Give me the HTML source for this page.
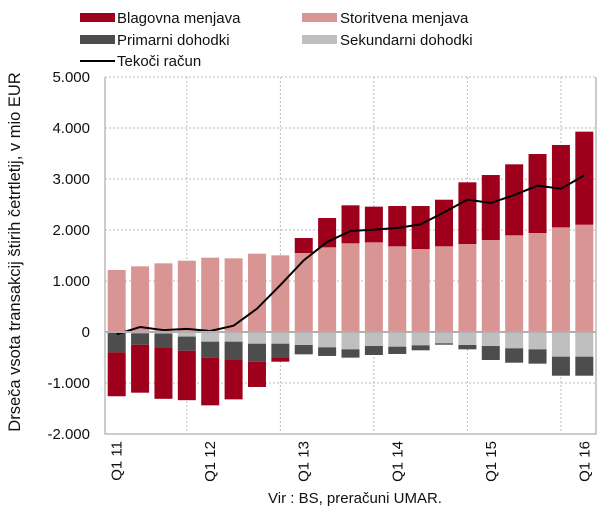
<!DOCTYPE html>
<html><head><meta charset="utf-8"><style>
body{margin:0;background:#fff;}
svg text{font-family:"Liberation Sans",sans-serif;fill:#111;}
</style></head><body>
<svg id="chart" width="614" height="516">
<g id="legend">
 <g><rect x="80" y="13" width="35" height="9" fill="#9e001b"/><text x="117" y="23" font-size="15">Blagovna menjava</text></g>
 <g><rect x="302" y="13" width="35" height="9" fill="#d99594"/><text x="340" y="23" font-size="15">Storitvena menjava</text></g>
 <g><rect x="80" y="35" width="35" height="9" fill="#4d4d4d"/><text x="117" y="45" font-size="15">Primarni dohodki</text></g>
 <g><rect x="302" y="35" width="35" height="9" fill="#bfbfbf"/><text x="340" y="45" font-size="15">Sekundarni dohodki</text></g>
 <g><line x1="80" y1="61" x2="115" y2="61" stroke="#000" stroke-width="2"/><text x="117" y="66" font-size="15">Tekoči račun</text></g>
</g>
<text transform="translate(20,252) rotate(-90)" text-anchor="middle" font-size="16.5">Drseča vsota transakcij štirih četrtletij, v mio EUR</text>
<text x="355" y="503" text-anchor="middle" font-size="15">Vir : BS, preračuni  UMAR.</text>
<g id="grid"></g><g id="bars"></g><g id="axes"></g>
</svg>
<script>
const categories=["Q1 11","Q2 11","Q3 11","Q4 11","Q1 12","Q2 12","Q3 12","Q4 12","Q1 13","Q2 13","Q3 13","Q4 13","Q1 14","Q2 14","Q3 14","Q4 14","Q1 15","Q2 15","Q3 15","Q4 15","Q1 16"];
const goods=[-860,-940,-1010,-970,-935,-785,-496,-85,294,575,745,700,790,843,914,1210,1274,1392,1549,1615,1824];
const services=[1216,1288,1346,1398,1457,1444,1536,1503,1549,1660,1739,1758,1680,1627,1680,1725,1804,1896,1941,2052,2104];
const primary=[-400,-225,-270,-277,-313,-346,-353,-268,-183,-169,-163,-176,-143,-97,-27,-85,-274,-282,-281,-373,-373];
const secondary=[0,-25,-30,-90,-190,-190,-229,-229,-255,-301,-340,-275,-288,-262,-222,-255,-275,-320,-340,-484,-484];
const yTicks=[5000,4000,3000,2000,1000,0,-1000,-2000];
const yTickLabels=["5.000","4.000","3.000","2.000","1.000","0","-1.000","-2.000"];
const xLabelIdx=[0,4,8,12,16,20];
const current=categories.map((c,i)=>goods[i]+services[i]+primary[i]+secondary[i]);

const NS="http://www.w3.org/2000/svg";
const X0=105,X1=596,Y0=332,PX=51/1000;
const band=(X1-X0)/categories.length,bw=18;
const y=v=>Y0-v*PX;
const xc=i=>X0+band*(i+0.5);
function mk(t,a,p){const e=document.createElementNS(NS,t);for(const k in a)e.setAttribute(k,a[k]);p.appendChild(e);return e;}
const grid=document.getElementById('grid'),bars=document.getElementById('bars'),axes=document.getElementById('axes');
yTicks.forEach((v,i)=>{
 if(v!==0){const l=mk('line',{x1:X0,x2:X1,y1:y(v),y2:y(v),stroke:'#bbb','stroke-dasharray':'2,2'},grid);
 
 }
 const t=mk('text',{x:90,y:y(v)+5,'text-anchor':'end','font-size':'15'},axes);t.textContent=yTickLabels[i];
 
 
});
for(let i=4;i<categories.length;i+=4){
 const gx=xc(i)-band;
 const l=mk('line',{x1:gx,x2:gx,y1:y(5000),y2:y(-2000),stroke:'#bbb','stroke-dasharray':'2,2'},grid);
 
 
}
categories.forEach((c,i)=>{
 const x=xc(i)-bw/2;
 let pos=0,neg=0;
 const stack=(v,col,name)=>{
  let a,b;
  if(v>=0){a=pos;b=pos+v;pos=b;}else{a=neg;b=neg+v;neg=b;}
  const r=mk('rect',{x:x,y:y(Math.max(a,b)),width:bw,height:Math.abs(v)*PX,fill:col},bars);
  
  
 };
 stack(services[i],'#d99594','bar-services');
 stack(secondary[i],'#bfbfbf','bar-secondary');
 stack(primary[i],'#4d4d4d','bar-primary');
 stack(goods[i],'#9e001b','bar-goods');
});
const z=mk('line',{x1:X0,x2:X1,y1:Y0,y2:Y0,stroke:'#b0b0b0','stroke-width':2},axes);


const fr=mk('path',{d:`M${X0},${y(5000)}V${y(-2000)}H${X1}V${y(5000)}`,fill:'none',stroke:'#bbb','stroke-width':1.5},axes);


const ln=mk('polyline',{points:current.map((v,i)=>xc(i)+','+y(v)).join(' '),fill:'none',stroke:'#000','stroke-width':2},bars);


xLabelIdx.forEach(i=>{
 const t=mk('text',{transform:`translate(${xc(i)+5},441) rotate(-90)`,'text-anchor':'end','font-size':'15'},axes);
 t.textContent=categories[i];
 
 
});
</script>
</body></html>
